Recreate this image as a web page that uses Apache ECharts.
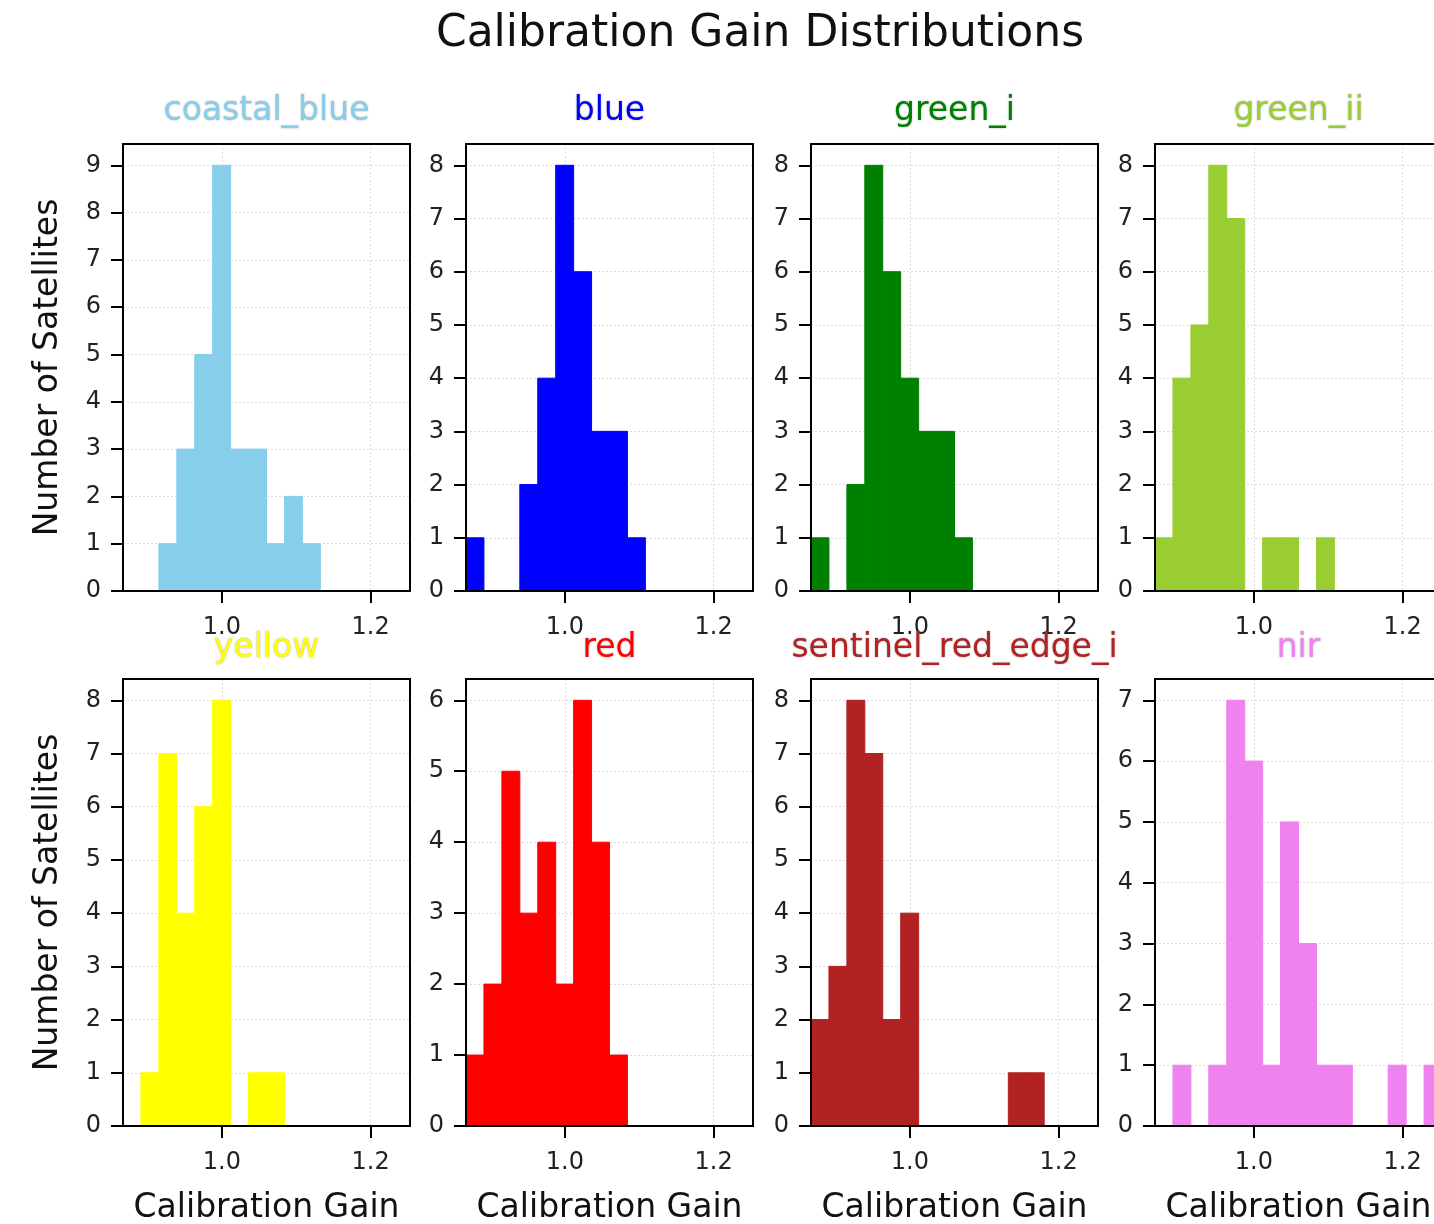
<!DOCTYPE html>
<html>
<head>
<meta charset="utf-8">
<script src="https://cdn.jsdelivr.net/npm/echarts@6/dist/echarts.min.js"></script>
<style>
  html, body { margin: 0; padding: 0; background: #fff; }
  #main { width: 1434px; height: 1224px; }
</style>
</head>
<body>
<div id="main"></div>
<script>
var chartDom = document.getElementById("main");
var myChart = echarts.init(chartDom, null, { renderer: "canvas" });

// shared bins (16 equal bins between the smallest and largest gain)
var gainMin = 0.867;
var gainMax = 1.253;
var binCount = 16;
var xTickValues = [1.0, 1.2];

var bands = ["coastal_blue", "blue", "green_i", "green_ii", "yellow", "red", "sentinel_red_edge_i", "nir"];
var bandColors = ["#87ceeb", "#0000ff", "#008000", "#9acd32", "#ffff00", "#ff0000", "#b22222", "#ee82ee"];

var coastalBlueCounts = [0, 0, 1, 3, 5, 9, 3, 3, 1, 2, 1, 0, 0, 0, 0, 0];
var blueCounts        = [1, 0, 0, 2, 4, 8, 6, 3, 3, 1, 0, 0, 0, 0, 0, 0];
var greenICounts      = [1, 0, 2, 8, 6, 4, 3, 3, 1, 0, 0, 0, 0, 0, 0, 0];
var greenIiCounts     = [1, 4, 5, 8, 7, 0, 1, 1, 0, 1, 0, 0, 0, 0, 0, 0];
var yellowCounts      = [0, 1, 7, 4, 6, 8, 0, 1, 1, 0, 0, 0, 0, 0, 0, 0];
var redCounts         = [1, 2, 5, 3, 4, 2, 6, 4, 1, 0, 0, 0, 0, 0, 0, 0];
var redEdgeCounts     = [2, 3, 8, 7, 2, 4, 0, 0, 0, 0, 0, 1, 1, 0, 0, 0];
var nirCounts         = [0, 1, 0, 1, 7, 6, 1, 5, 3, 1, 1, 0, 0, 1, 0, 1];

var bandCounts = [coastalBlueCounts, blueCounts, greenICounts, greenIiCounts,
                  yellowCounts, redCounts, redEdgeCounts, nirCounts];

// layout
var colLeft = [123, 466, 811, 1155];
var rowTop = [144, 679];
var plotW = 287;
var plotH = 447;

var binWidth = (gainMax - gainMin) / binCount;
var fontFamily = "DejaVu Sans";

var grids = [], xAxes = [], yAxes = [], series = [], graphics = [];

graphics.push({
  type: "text",
  x: 760, y: 35,
  style: { text: "Calibration Gain Distributions", font: "44px DejaVu Sans", fill: "#111",
           textAlign: "center", textVerticalAlign: "middle" }
});

bands.forEach(function (name, i) {
  var row = Math.floor(i / 4), col = i % 4;
  var counts = bandCounts[i];
  var maxCount = Math.max.apply(null, counts);
  var yTicks = [];
  for (var t = 0; t <= maxCount; t++) yTicks.push(t);

  grids.push({
    left: colLeft[col], top: rowTop[row], width: plotW, height: plotH,
    show: true, borderColor: "#000", borderWidth: 2, backgroundColor: "transparent",
    z: 10, outerBoundsMode: "none", containLabel: false
  });

  xAxes.push({
    type: "value", gridIndex: i, min: gainMin, max: gainMax,
    name: row === 1 ? "Calibration Gain" : "",
    nameLocation: "middle", nameGap: 66,
    nameTextStyle: { fontFamily: fontFamily, fontSize: 33, color: "#111" },
    axisLine: { show: false },
    axisTick: { show: true, length: 12, customValues: xTickValues,
                lineStyle: { color: "#000", width: 2 } },
    axisLabel: { customValues: xTickValues, margin: 25, fontFamily: fontFamily, fontSize: 24, color: "#222",
                 formatter: function (v) { return v.toFixed(1); } },
    splitLine: { show: true, lineStyle: { color: "#dcdcdc", type: [2, 2], width: 1 } }
  });

  yAxes.push({
    type: "value", gridIndex: i, min: 0, max: maxCount * 1.05,
    name: col === 0 ? "Number of Satellites" : "",
    nameLocation: "middle", nameGap: 58, nameRotate: 90,
    nameTextStyle: { fontFamily: fontFamily, fontSize: 33, color: "#111" },
    axisLine: { show: false },
    axisTick: { show: true, length: 12, customValues: yTicks,
                lineStyle: { color: "#000", width: 2 } },
    axisLabel: { customValues: yTicks, margin: 22, fontFamily: fontFamily, fontSize: 24, color: "#222" },
    splitLine: { show: true, lineStyle: { color: "#dcdcdc", type: [2, 2], width: 1 } }
  });

  var data = counts.map(function (c, k) {
    return [gainMin + k * binWidth, gainMin + (k + 1) * binWidth, c];
  });

  series.push({
    type: "custom", name: name, xAxisIndex: i, yAxisIndex: i,
    encode: { x: [0, 1], y: 2 },
    clip: true,
    data: data,
    renderItem: (function (color) {
      return function (params, api) {
        var p0 = api.coord([api.value(0), api.value(2)]);
        var p1 = api.coord([api.value(1), 0]);
        if (api.value(2) === 0) return null;
        return {
          type: "rect",
          shape: { x: p0[0], y: p0[1], width: p1[0] - p0[0], height: p1[1] - p0[1] },
          style: { fill: color, stroke: color, lineWidth: 1 }
        };
      };
    })(bandColors[i])
  });

  graphics.push({
    type: "text",
    x: colLeft[col] + plotW / 2,
    y: row === 0 ? 111 : 648,
    z: 20,
    style: { text: name, font: "33px DejaVu Sans", fill: bandColors[i],
             textAlign: "center", textVerticalAlign: "middle",
             textShadowColor: "rgba(0,0,0,0.35)", textShadowBlur: 2 }
  });
});

var option = {
  backgroundColor: "#fff",
  animation: false,
  grid: grids,
  xAxis: xAxes,
  yAxis: yAxes,
  series: series,
  graphic: graphics
};

option && myChart.setOption(option);
</script>
</body>
</html>
